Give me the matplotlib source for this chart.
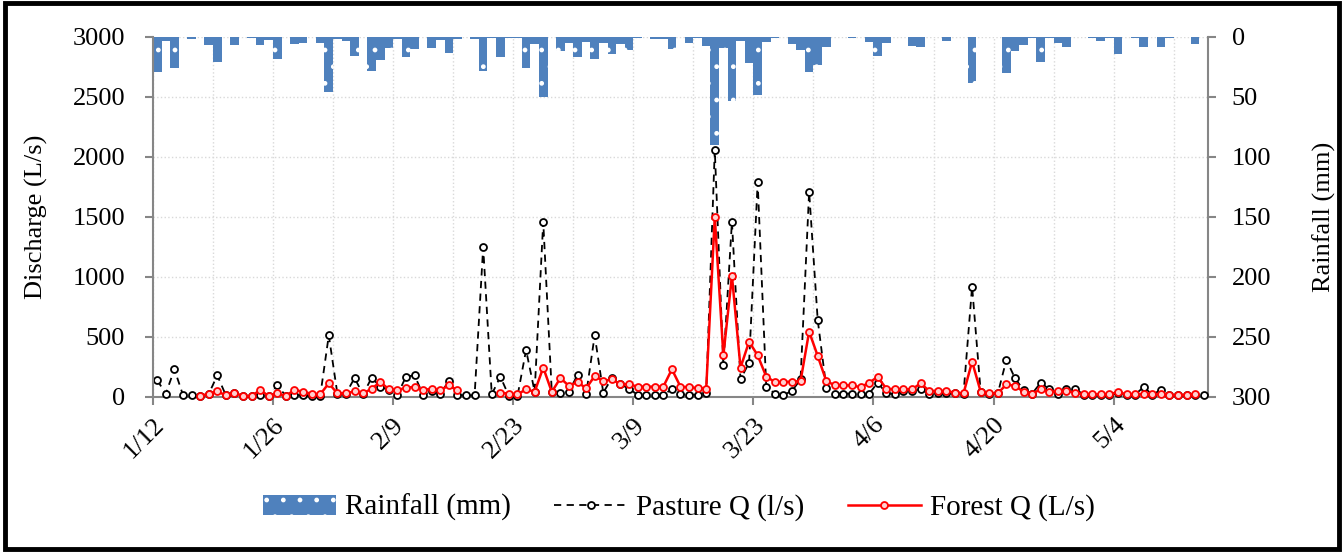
import numpy as np
import matplotlib.pyplot as plt
import matplotlib.transforms as mtransforms
from matplotlib.patches import Rectangle

plt.rcParams['font.family'] = ['Liberation Serif', 'DejaVu Serif']
plt.rcParams['hatch.color'] = 'white'

# daily series, 1/12 .. 5/14
rain_mm = [29, 3, 26, 0, 1.5, 0, 7, 21, 0, 7,
           0, 1, 7, 2.5, 18, 0, 6, 5, 0, 5,
           46, 2, 3, 15.5, 0, 28, 19, 9.5, 2, 17,
           10, 0, 9, 2.5, 13.6, 2, 0, 2, 28, 1,
           17, 1, 1, 26, 6, 50, 0, 12, 5, 17,
           4, 18, 5, 14, 6, 11, 0.5, 0, 2, 2,
           10, 0, 5, 1, 7.5, 90, 9.5, 53, 3, 22,
           48, 4.5, 0.5, 0, 6, 11, 29, 23, 8.6, 0,
           0, 0.5, 0, 4, 16, 5, 0, 0.3, 7.5, 8,
           0, 0, 3, 0, 0, 38, 0, 0.3, 0, 30,
           12, 7, 1, 21, 1, 5, 8.6, 0.3, 0, 1,
           3, 1, 14.5, 0, 1, 8.6, 0, 8, 1, 0,
           0, 6, 0]

pasture_q = [139, 28, 231, 17, 14, 8, 25, 180, 14, 30,
             8, 8, 14, 8, 97, 8, 17, 14, 8, 8,
             514, 28, 28, 158, 22, 161, 86, 58, 17, 170,
             180, 17, 50, 28, 133, 17, 14, 14, 1250, 22,
             170, 8, 8, 392, 44, 1460, 40, 36, 42, 186,
             22, 514, 36, 158, 106, 69, 19, 19, 19, 19,
             64, 22, 19, 19, 30, 2060, 264, 1460, 147, 286,
             1790, 86, 28, 17, 50, 147, 1710, 642, 78, 28,
             28, 28, 28, 28, 120, 30, 25, 50, 50, 64,
             28, 30, 30, 30, 28, 920, 42, 28, 30, 311,
             156, 58, 28, 120, 64, 25, 64, 69, 20, 20,
             20, 20, 30, 20, 20, 83, 20, 58, 14, 14,
             14, 20, 17]

nan = np.nan
forest_q = [nan, nan, nan, nan, nan, 8, 28, 47, 14, 36,
            8, 8, 58, 8, 30, 8, 61, 42, 28, 22,
            114, 30, 30, 47, 30, 69, 125, 64, 56, 78,
            83, 58, 69, 56, 97, 56, nan, nan, nan, nan,
            36, 28, 22, 64, 44, 245, 42, 158, 92, 125,
            72, 175, 133, 147, 106, 106, 86, 86, 86, 86,
            231, 86, 81, 75, 69, 1500, 347, 1010, 245, 461,
            347, 170, 125, 125, 128, 133, 545, 342, 133, 97,
            97, 97, 81, 120, 167, 69, 64, 64, 64, 114,
            50, 50, 50, 36, 30, 295, 44, 30, 30, 106,
            92, 44, 28, 64, 42, 50, 50, 36, 22, 22,
            22, 22, 42, 22, 22, 22, 22, 22, 17, 17,
            17, 28, nan]

tick_days = [0, 14, 28, 42, 56, 70, 84, 98, 112]
tick_labels = ['1/12', '1/26', '2/9', '2/23', '3/9', '3/23', '4/6', '4/20', '5/4']

days = np.arange(len(rain_mm))
x_mid = days + 0.5
gray = '#868686'
fs = 19

fig = plt.figure(figsize=(13.44, 5.52), dpi=100)
ax_r = fig.add_axes([0.1138, 0.2808, 0.7850, 0.6522])
ax_q = ax_r.twinx()
ax_r.yaxis.tick_right()
ax_r.yaxis.set_label_position('right')
ax_q.yaxis.tick_left()
ax_q.yaxis.set_label_position('left')

# rainfall, hanging from the top
bars = ax_r.bar(days, rain_mm, width=1.0, align='edge', color='#4F81BD',
                hatch='.', linewidth=0, label='Rainfall (mm)')
ax_r.set_ylim(300, 0)
ax_r.set_xlim(0, len(days))
ax_r.set_yticks(np.arange(0, 301, 50))
ax_r.set_ylabel('Rainfall (mm)', fontsize=fs, labelpad=30)

ax_r.set_xticks(tick_days)
ax_r.set_xticklabels(tick_labels, rotation=45, ha='right', va='top',
                     rotation_mode='anchor', fontsize=fs)
shift = mtransforms.ScaledTranslation(12 / 100, 0, fig.dpi_scale_trans)
for lab in ax_r.get_xticklabels():
    lab.set_transform(lab.get_transform() + shift)
ax_r.set_xticks(np.arange(7, len(days), 14), minor=True)
ax_r.tick_params(axis='x', which='minor', length=0)
ax_r.set_axisbelow(True)
ax_r.grid(True, which='both', color='#d9d9d9', linestyle=':', linewidth=1.0)

# discharge
p_line, = ax_q.plot(x_mid, pasture_q, color='black', linestyle=(0, (4, 3)),
                    linewidth=1.3, marker='o', markersize=5, markerfacecolor='white',
                    markeredgecolor='black', markeredgewidth=1.3, clip_on=False,
                    label='Pasture Q (l/s)')
f_line, = ax_q.plot(x_mid, forest_q, color='#FF0000', linewidth=1.8,
                    marker='o', markersize=5, markerfacecolor='#FFD0D0',
                    markeredgecolor='#FF0000', markeredgewidth=1.3, clip_on=False,
                    label='Forest Q (L/s)')
ax_q.set_ylim(0, 3000)
ax_q.set_yticks(np.arange(0, 3001, 500))
ax_q.set_ylabel('Discharge (L/s)', fontsize=fs, labelpad=18)

for a in (ax_r, ax_q):
    for s in a.spines.values():
        s.set_visible(False)
ax_r.spines['right'].set_visible(True)
ax_r.spines['bottom'].set_visible(True)
ax_q.spines['left'].set_visible(True)
for s in (ax_r.spines['right'], ax_r.spines['bottom'], ax_q.spines['left']):
    s.set_color(gray)
    s.set_linewidth(1.5)

ax_r.tick_params(axis='y', which='major', length=6, width=1.5, color=gray,
                 labelsize=fs, pad=11)
ax_r.tick_params(axis='x', which='major', length=6, width=1.5, color=gray, pad=6)
ax_q.tick_params(axis='y', length=6, width=1.5, color=gray, labelsize=fs, pad=14)

fig.legend([bars, p_line, f_line],
           ['Rainfall (mm)', 'Pasture Q (l/s)', 'Forest Q (L/s)'],
           loc='center', bbox_to_anchor=(0.505, 0.08), ncol=3, frameon=False,
           fontsize=21, handlelength=2.5, handletextpad=0.3, columnspacing=1.5)

fig.patches.append(Rectangle((0.004, 0.006), 0.992, 0.988, transform=fig.transFigure,
                             fill=False, edgecolor='black', linewidth=3.5))

plt.savefig('out.png', dpi=100)
plt.close('all')
